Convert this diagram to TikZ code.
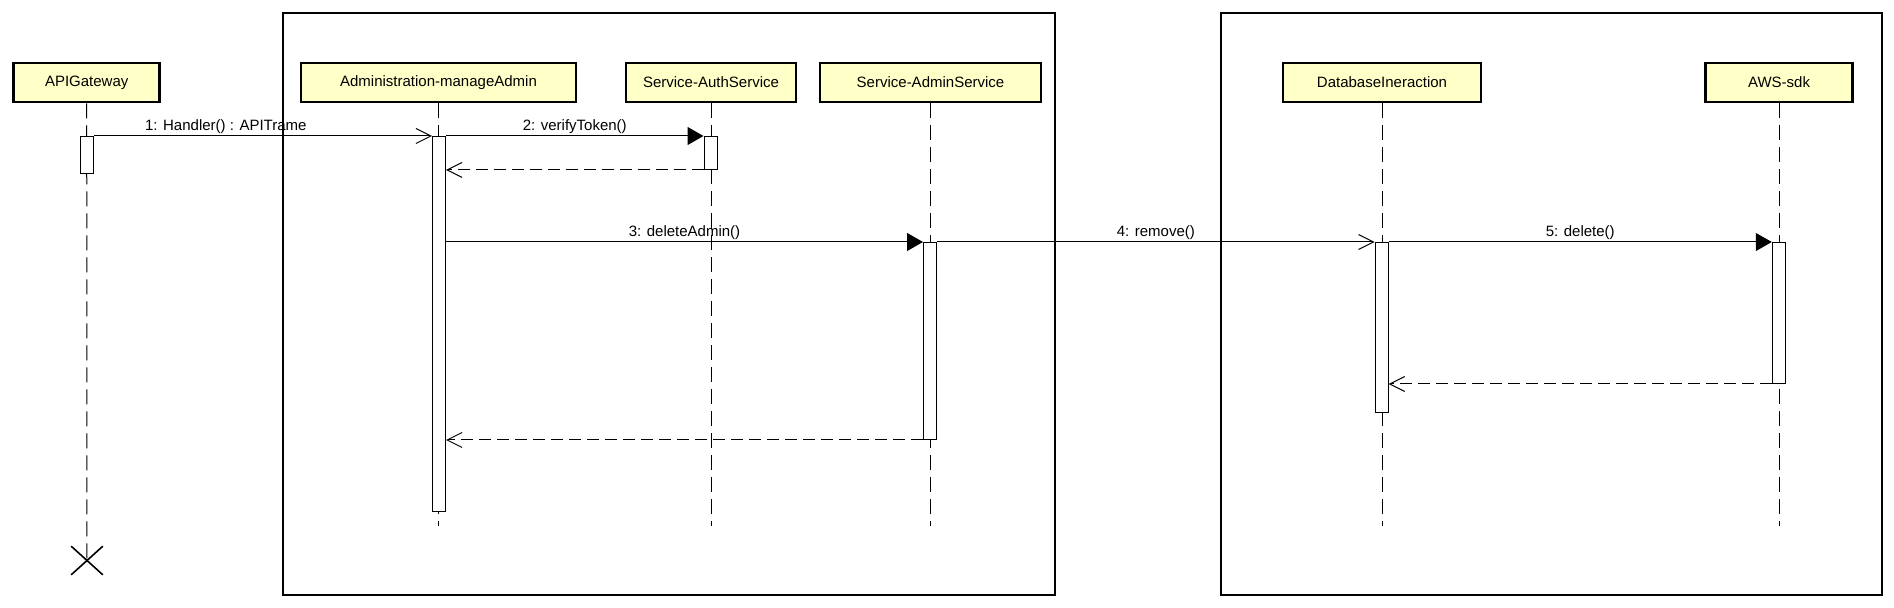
\documentclass[tikz,border=0pt]{standalone}
\usepackage{fontspec}
\setmainfont{Liberation Sans}
\usepackage{xcolor}
\usetikzlibrary{positioning,arrows.meta,shapes.misc}

\definecolor{headyellow}{HTML}{FFFFC8}

\begin{document}
\begin{tikzpicture}[
  x=0.5pt, y=-0.5pt,
  font=\fontsize{7.5pt}{9pt}\selectfont,
  head/.style={draw,line width=1.3pt,fill=headyellow,minimum height=19.5pt,inner sep=0pt},
  act/.style={draw,line width=0.5pt,fill=white,minimum width=6.5pt,inner sep=0pt,anchor=north},
  life/.style={line width=0.5pt,dash pattern=on 7.5pt off 3.5pt},
  call/.style={line width=0.5pt,-{Triangle[length=8pt,width=9pt]}},
  async/.style={line width=0.5pt,-{Straight Barb[length=7.5pt,width=7.5pt]}},
  ret/.style={async,dash pattern=on 6pt off 3pt},
  lbl/.style={above,inner sep=1pt},
  frm/.style={line width=0.7pt}
]
\useasboundingbox (0,0) rectangle (1894,608);

% frames
\draw[frm] (283,13) rectangle (1055,595);
\draw[frm] (1221,13) rectangle (1882,595);

% lifeline heads
\node[head,minimum width=73pt] (gw) at (86.7,82.5) {APIGateway};
\node[head,minimum width=137.5pt] (adm) at (438.5,82.5) {Administration-manageAdmin};
\node[head,minimum width=85pt] (auth) at (711,82.5) {Service-AuthService};
\node[head,minimum width=110.5pt] (svc) at (930.5,82.5) {Service-AdminService};
\node[head,minimum width=99pt] (db) at (1382,82.5) {DatabaseIneraction};
\node[head,minimum width=73.5pt] (aws) at (1779,82.5) {AWS-sdk};

% lifelines
\node[draw,cross out,line width=0.8pt,minimum width=15pt,minimum height=13.5pt] (gwX) at (87,560.5) {};
\draw[life] (gw.south) -- (gwX.center);
\coordinate (admE) at (439,526);
\coordinate (authE) at (710.5,526);
\coordinate (svcE) at (930,526);
\coordinate (dbE) at (1381.6,526);
\coordinate (awsE) at (1778.8,526);
\draw[life] (adm.south) -- (adm.south |- admE);
\draw[life] (auth.south) -- (auth.south |- authE);
\draw[life] (svc.south) -- (svc.south |- svcE);
\draw[life] (db.south) -- (db.south |- dbE);
\draw[life] (aws.south) -- (aws.south |- awsE);

% activations
\node[act,minimum height=18.5pt] (gwA) at (87,136) {};
\node[act,minimum height=187.5pt] (admA) at (439,136) {};
\node[act,minimum height=16.5pt] (authA) at (710.5,136) {};
\node[act,minimum height=98.5pt] (svcA) at (930,242) {};
\node[act,minimum height=85pt] (dbA) at (1381.6,242) {};
\node[act,minimum height=70.5pt] (awsA) at (1778.8,242) {};

% messages
\draw[async] (gwA.north east) -- node[lbl,pos=0.39]{1: Handler() : APITrame} (admA.north west);
\draw[call] (admA.north east) -- node[lbl]{2: verifyToken()} (authA.north west);
\draw[ret] (authA.south west) -- (admA.east |- authA.south);
\draw[call] (admA.east |- svcA.north) -- node[lbl]{3: deleteAdmin()} (svcA.north west);
\draw[async] (svcA.north east) -- node[lbl]{4: remove()} (dbA.north west);
\draw[call] (dbA.north east) -- node[lbl]{5: delete()} (awsA.north west);
\draw[ret] (awsA.south west) -- (dbA.east |- awsA.south);
\draw[ret] (svcA.south west) -- (admA.east |- svcA.south);
\end{tikzpicture}
\end{document}
